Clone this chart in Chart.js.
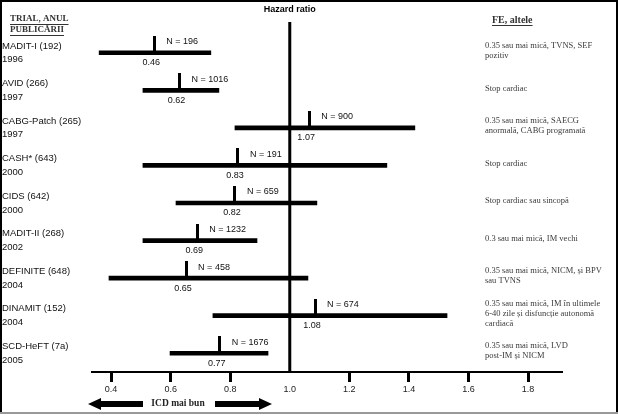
<!DOCTYPE html>
<html>
<head>
<meta charset="utf-8">
<script src="https://cdn.jsdelivr.net/npm/chart.js@4"></script>
<style>
  html, body { margin: 0; padding: 0; background: #fff; }
</style>
</head>
<body>
<canvas id="forestChart" width="618" height="416"></canvas>
<script>
// Trials (rows, top to bottom)
const trials = ["MADIT-I (192)", "AVID (266)", "CABG-Patch (265)", "CASH* (643)", "CIDS (642)",
                "MADIT-II (268)", "DEFINITE (648)", "DINAMIT (152)", "SCD-HeFT (7a)"];
const years = ["1996", "1997", "1997", "2000", "2000", "2002", "2004", "2004", "2005"];

// Hazard ratio: point estimate (as drawn), printed value, confidence interval
const hrEst = [0.545, 0.63, 1.065, 0.826, 0.816, 0.689, 0.652, 1.085, 0.765];
const hrText = ["0.46", "0.62", "1.07", "0.83", "0.82", "0.69", "0.65", "1.08", "0.77"];
const ciLow = [0.36, 0.507, 0.816, 0.507, 0.618, 0.507, 0.393, 0.742, 0.598];
const ciHigh = [0.735, 0.762, 1.42, 1.326, 1.091, 0.89, 1.061, 1.528, 0.927];
const patients = [196, 1016, 900, 191, 659, 1232, 458, 674, 1676];

// FE, altele
const notes = [
    ["0.35 sau mai mică, TVNS, SEF", "pozitiv"],
    ["Stop cardiac"],
    ["0.35 sau mai mică, SAECG", "anormală, CABG programată"],
    ["Stop cardiac"],
    ["Stop cardiac sau sincopă"],
    ["0.3 sau mai mică, IM vechi"],
    ["0.35 sau mai mică, NICM, și BPV", "sau TVNS"],
    ["0.35 sau mai mică, IM în ultimele", "6-40 zile și disfuncție autonomă", "cardiacă"],
    ["0.35 sau mai mică, LVD", "post-IM și NICM"]
];

// x axis ticks
const tickVals = [0.4, 0.6, 0.8, 1.0, 1.2, 1.4, 1.6, 1.8];
const tickLabels = ["0.4", "0.6", "0.8", "1.0", "1.2", "1.4", "1.6", "1.8"];

const SANS = "'Liberation Sans', Arial, sans-serif";
const SERIF = "'Liberation Serif', 'Times New Roman', serif";

// little vertical stroke above the CI bar marks the point estimate
const tickImg = document.createElement("canvas");
tickImg.width = 3;
tickImg.height = 34;
const tctx = tickImg.getContext("2d");
tctx.fillStyle = "#000";
tctx.fillRect(0, 0, 3, 17);

function underlinedText(ctx, text, x, y) {
    ctx.fillText(text, x, y);
    const w = ctx.measureText(text).width;
    ctx.fillRect(x, y + 5, w, 1);
}

function arrow(ctx, tipX, tailX, y) {
    const dir = tipX < tailX ? 1 : -1;
    const headX = tipX + dir * 13;
    ctx.beginPath();
    ctx.moveTo(tipX, y);
    ctx.lineTo(headX, y - 6);
    ctx.lineTo(headX, y - 3);
    ctx.lineTo(tailX, y - 3);
    ctx.lineTo(tailX, y + 3);
    ctx.lineTo(headX, y + 3);
    ctx.lineTo(headX, y + 6);
    ctx.closePath();
    ctx.fill();
}

const forestExtras = {
    id: "forestExtras",
    beforeDraw(chart) {
        const ctx = chart.ctx;
        ctx.save();
        ctx.fillStyle = "#fff";
        ctx.fillRect(0, 0, chart.width, chart.height);
        ctx.restore();
    },
    afterDatasetsDraw(chart) {
        const { ctx, chartArea, scales: { x, y } } = chart;
        ctx.save();

        // line of no effect (HR = 1)
        const x1 = x.getPixelForValue(1);
        ctx.strokeStyle = "#000";
        ctx.lineWidth = 3;
        ctx.beginPath();
        ctx.moveTo(x1, chartArea.top - 12);
        ctx.lineTo(x1, chartArea.bottom);
        ctx.stroke();

        ctx.fillStyle = "#000";
        ctx.font = "bold 9px " + SANS;
        ctx.textAlign = "center";
        ctx.textBaseline = "middle";
        ctx.fillText("Hazard ratio", x1, 10);

        // N and HR labels for each trial
        trials.forEach((t, i) => {
            const px = x.getPixelForValue(hrEst[i]);
            const py = y.getPixelForValue(i);
            ctx.font = "9px " + SANS;
            ctx.fillStyle = "#111";
            ctx.textAlign = "left";
            ctx.fillText("N = " + patients[i], px + 12, py - 11);
            ctx.textAlign = "center";
            ctx.fillText(hrText[i], px - 3, py + 10);

            // notes on the right
            ctx.font = "8.5px " + SERIF;
            ctx.fillStyle = "#3a3a3a";
            ctx.textAlign = "left";
            const lines = notes[i];
            const lh = 10;
            const top = py - 2 - (lines.length - 1) * lh / 2;
            lines.forEach((line, k) => ctx.fillText(line, 485, top + k * lh));
        });

        // column headers
        ctx.fillStyle = "#333";
        ctx.textAlign = "left";
        ctx.font = "bold 9px " + SERIF;
        underlinedText(ctx, "TRIAL, ANUL", 10, 19);
        underlinedText(ctx, "PUBLICĂRII", 10, 30);
        ctx.font = "bold 10px " + SERIF;
        underlinedText(ctx, "FE, altele", 492, 20);

        // ICD better arrows
        ctx.fillStyle = "#000";
        arrow(ctx, 88, 143, 404);
        arrow(ctx, 272, 215, 404);
        ctx.font = "bold 9.5px " + SERIF;
        ctx.fillStyle = "#222";
        ctx.textAlign = "center";
        ctx.fillText("ICD mai bun", 178, 404);

        // frame
        ctx.fillStyle = "#000";
        ctx.fillRect(0, 0, 618, 2);
        ctx.fillRect(0, 0, 2, 413);
        ctx.fillRect(616, 0, 2, 413);
        ctx.fillStyle = "#999";
        ctx.fillRect(0, 412, 618, 2);
        ctx.restore();
    }
};

const ctx = document.getElementById("forestChart").getContext("2d");
new Chart(ctx, {
    type: "bar",
    data: {
        labels: trials,
        datasets: [
            {
                type: "bar",
                data: trials.map((t, i) => [ciLow[i], ciHigh[i]]),
                backgroundColor: "#000",
                borderWidth: 0,
                barThickness: 4,
                order: 2
            },
            {
                type: "scatter",
                data: trials.map((t, i) => ({ x: hrEst[i], y: t })),
                pointStyle: tickImg,
                pointRadius: 3,
                order: 1
            }
        ]
    },
    options: {
        indexAxis: "y",
        responsive: false,
        animation: false,
        events: [],
        layout: { padding: { left: 2, right: 56, top: 34, bottom: 0 } },
        plugins: {
            legend: { display: false },
            tooltip: { enabled: false },
            title: { display: false }
        },
        scales: {
            x: {
                type: "linear",
                min: 0.336,
                max: 1.914,
                afterBuildTicks: (axis) => { axis.ticks = tickVals.map(v => ({ value: v })); },
                afterFit: (axis) => { axis.height = 44; },
                border: { display: true, color: "#000", width: 2 },
                grid: {
                    drawOnChartArea: false,
                    drawTicks: true,
                    tickLength: 10,
                    tickWidth: 3,
                    color: "#000",
                    tickColor: (c) => (tickVals[c.index] === 1 ? "rgba(0,0,0,0)" : "#000")
                },
                ticks: {
                    padding: 2,
                    color: "#222",
                    font: { family: SANS, size: 9 },
                    maxRotation: 0,
                    autoSkip: false,
                    callback: (v, i) => tickLabels[i]
                }
            },
            y: {
                type: "category",
                offset: true,
                afterFit: (axis) => { axis.width = 90; },
                border: { display: false },
                grid: { display: false, drawTicks: false },
                ticks: {
                    crossAlign: "far",
                    padding: 0,
                    autoSkip: false,
                    color: "#111",
                    font: { family: SANS, size: 9.5, lineHeight: 1.45 },
                    callback: (v, i) => [trials[i], years[i]]
                }
            }
        }
    },
    plugins: [forestExtras]
});
</script>
</body>
</html>
